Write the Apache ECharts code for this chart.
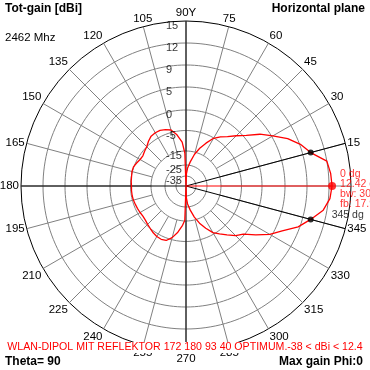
<!DOCTYPE html>
<html><head><meta charset="utf-8">
<script src="https://cdn.jsdelivr.net/npm/echarts@6/dist/echarts.min.js"></script>
<style>html,body{margin:0;padding:0;background:#fff}#c{width:370px;height:370px}</style>
</head><body><div id="c"></div>
<script>
// ---- data ----
const ringLabels = [15, 12, 9, 5, 0, -5, -15, -25, -35];
const angleTicks = [0,15,30,45,60,75,90,105,120,135,150,165,180,195,210,225,240,255,270,285,300,315,330,345];
const patternAngles = [0,5,10,15,20,25,30,35,40,45,50,55,60,65,70,75,80,85,88,90,92,95,100,105,110,115,120,125,130,135,140,145,150,155,160,165,170,175,180,185,190,195,200,205,210,215,220,225,230,235,240,245,250,255,260,265,268,270,272,275,280,285,290,295,300,305,310,315,320,325,330,335,340,345,350,355,360];
const patternGain = [12.42,12.3,12.0,10.1,9.1,7.4,5.2,3.1,0.6,-1.2,-2.8,-3.9,-5.2,-9.0,-12.5,-16.5,-22.5,-27.7,-33,-38,-16.4,-10.6,-6.7,-4.4,-3.9,-3.55,-3.55,-3.7,-4.3,-5.0,-5.7,-6.4,-6.2,-5.5,-4.9,-4.9,-5.1,-5.25,-5.48,-5.4,-5.4,-5.5,-5.8,-6.0,-6.2,-6.4,-6.2,-5.6,-5.0,-4.6,-4.3,-4.2,-4.4,-6.0,-9.2,-12.8,-15.5,-38,-33,-27.7,-22.5,-17,-12.8,-9.3,-5.8,-4.3,-3.0,-1.4,-0.3,2.0,4.5,6.3,8.7,10.1,11.5,12.2,12.42];
const peakAngle = 0, peakGain = 12.42, beamWidth = 30, frontBack = 17.9;
const beamEdgeAngles = [15, 345];
const beamEdgeGain = [10.1, 10.1];
const titleText = 'Tot-gain [dBi]';
const freqText = '2462 Mhz';
const planeText = 'Horizontal plane';
const footText = 'WLAN-DIPOL MIT REFLEKTOR 172 180 93 40 OPTIMUM.-38 < dBi < 12.4';
const thetaText = 'Theta= 90';
const maxGainText = 'Max gain Phi:0';

// radial (non-linear) scale of the plot: dB -> radius units
const radialScaleDb  = [-38, -35, -25, -15, -5, 0, 5, 9, 12, 15];
const radialScalePos = [0, 10, 21, 35, 55.5, 76, 99, 121, 143, 165];
function toR(db){
  if (db <= radialScaleDb[0]) return radialScalePos[0];
  for (let i = 1; i < radialScaleDb.length; i++) {
    if (db <= radialScaleDb[i]) {
      const t = (db - radialScaleDb[i-1]) / (radialScaleDb[i] - radialScaleDb[i-1]);
      return radialScalePos[i-1] + t * (radialScalePos[i] - radialScalePos[i-1]);
    }
  }
  return radialScalePos[radialScalePos.length-1];
}
const RMAX = toR(15);
const GRAY = '#808080', RED = '#ff0000';

const chart = echarts.init(document.getElementById('c'), null, {renderer:'canvas'});
const series = [];
function lineSeries(data, color, width, z){
  return {type:'line', coordinateSystem:'polar', data, showSymbol:false, symbol:'none', silent:true,
    lineStyle:{color, width}, z: z||2, animation:false};
}
// rings
ringLabels.slice(1).forEach(db => {
  const d = [];
  for (let a = 0; a <= 360; a += 2) d.push([toR(db), a]);
  series.push(lineSeries(d, GRAY, 1, 1));
});
// spokes
angleTicks.forEach(a => {
  series.push(lineSeries([[toR(-15), a], [RMAX, a]], GRAY, 1, 1));
});
// black axes
series.push(lineSeries([[RMAX, 90], [0, 90], [RMAX, 270]], '#000', 1, 3));
series.push(lineSeries([[RMAX, 180], [0, 180]], '#000', 1, 3));
beamEdgeAngles.forEach(a => series.push(lineSeries([[0, a], [RMAX, a]], '#000', 1, 3)));
series.push(lineSeries([[0, peakAngle], [toR(peakGain), peakAngle]], RED, 1, 3));
// pattern
series.push(lineSeries(patternAngles.map((a, i) => [toR(patternGain[i]), a]), RED, 1.3, 4));
// beam edge dots
series.push({type:'scatter', coordinateSystem:'polar', silent:true, animation:false, z:5,
  symbolSize:6, itemStyle:{color:'#000'},
  data: beamEdgeAngles.map((a, i) => ({value:[toR(beamEdgeGain[i]), a],
    label: i === 1 ? {show:true, formatter: a + ' dg', position:'right', distance:0, offset:[18,-4],
      color:'#000', fontSize:10.5, fontFamily:'Liberation Sans'} : {show:false}}))
});
// peak
series.push({type:'scatter', coordinateSystem:'polar', silent:true, animation:false, z:5,
  symbolSize:8, itemStyle:{color:RED},
  data:[[toR(peakGain), peakAngle]],
  label:{show:true, position:'right', distance:4, offset:[0,3], align:'left',
    formatter: peakAngle + ' dg\n' + peakGain + ' dBi\nbw: ' + beamWidth + ' dg\nfb: ' + frontBack + ' dB',
    color:RED, fontSize:10.5, lineHeight:10, fontFamily:'Liberation Sans'}
});
// ring labels
series.push({type:'scatter', coordinateSystem:'polar', silent:true, animation:false, z:6,
  symbolSize:0, data: ringLabels.map(db => ({value:[toR(db), 90], name:String(db)})),
  label:{show:true, position:'inside', align:'left', verticalAlign:'middle', offset:[-20,5],
    formatter: p => p.name, color:'#000', fontSize:11, fontFamily:'Liberation Sans'}
});

chart.setOption({
  backgroundColor:'#fff',
  animation:false,
  polar:{center:[186,186], radius:RMAX},
  radiusAxis:{type:'value', min:0, max:RMAX, axisLine:{show:false}, axisTick:{show:false},
    axisLabel:{show:false}, splitLine:{show:false}},
  angleAxis:{type:'value', min:0, max:360, interval:15, startAngle:0, clockwise:false,
    axisLine:{show:true, lineStyle:{color:'#000', width:1}}, axisTick:{show:false},
    splitLine:{show:false},
    axisLabel:{show:true, margin:2, color:'#000', fontSize:11.5, fontFamily:'Liberation Sans',
      formatter: v => (v === 0 || v === 360) ? '' : (v === 90 ? '90Y' : String(v))}},
  graphic:[
    {type:'text', left:5, top:3, style:{text:titleText, fill:'#000', font:'bold 12px "Liberation Sans"'}},
    {type:'text', left:5, top:32, style:{text:freqText, fill:'#000', font:'11.5px "Liberation Sans"'}},
    {type:'text', right:5, top:3, style:{text:planeText, fill:'#000', font:'bold 12px "Liberation Sans"'}},
    {type:'text', left:'center', top:342, z:100, style:{text:footText, fill:RED, font:'10.6px "Liberation Sans"',
      backgroundColor:'#fff'}},
    {type:'text', left:5, top:356, style:{text:thetaText, fill:'#000', font:'bold 12px "Liberation Sans"'}},
    {type:'text', right:7, top:356, style:{text:maxGainText, fill:'#000', font:'bold 12px "Liberation Sans"'}}
  ],
  series
});
</script></body></html>
